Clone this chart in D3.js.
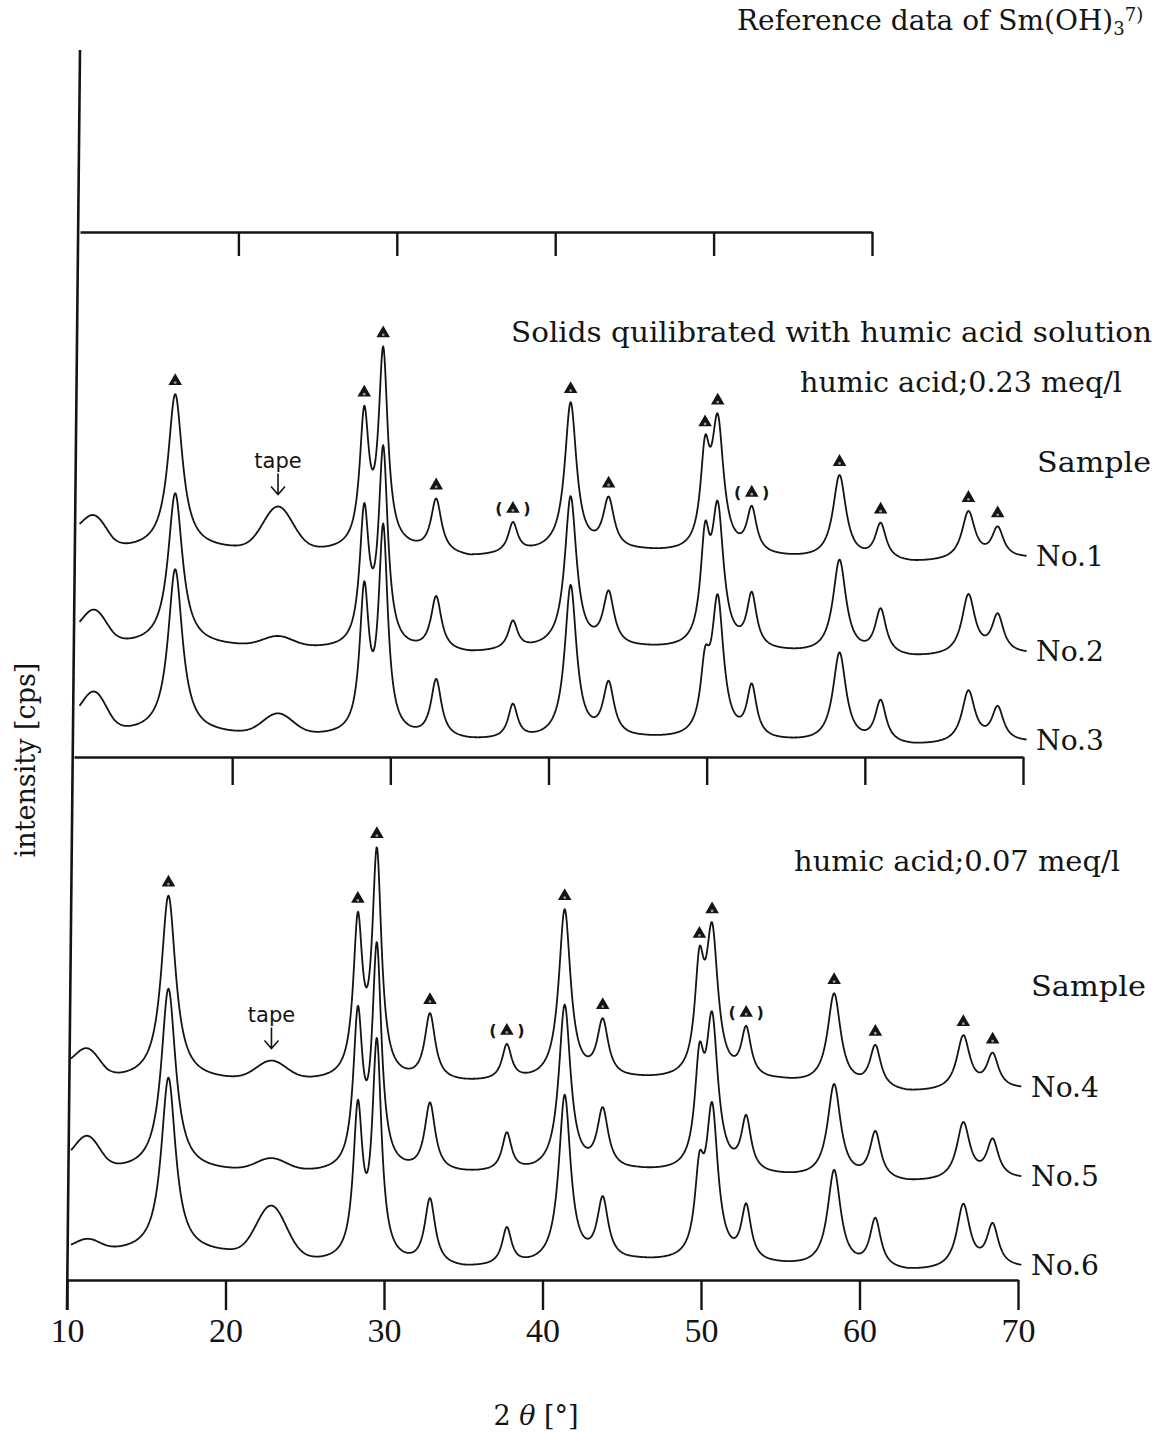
<!DOCTYPE html>
<html>
<head>
<meta charset="utf-8">
<script src="https://cdn.jsdelivr.net/npm/d3@7"></script>
<style>
  body { margin: 0; background: #fff; }
  svg text { font-family: "DejaVu Serif", serif; fill: #141414; }
  svg .hand { font-family: "DejaVu Sans", sans-serif; }
  svg .tick text { font-family: "Liberation Serif", serif; }
</style>
</head>
<body>
<svg id="chart" width="1166" height="1432"></svg>
<script>
// Pics de Sm(OH)3 (2θ, degrés), demi-largeurs et forme
// (1 = lorentzien pur, 0 = gaussien pour les bosses larges : fond à 11° et ruban adhésif)
const PEAK_POS  = [11.3, 16.4, 22.9, 28.35, 29.55, 32.9, 37.75, 41.4, 43.8, 49.9, 50.7, 52.85, 58.4, 61.0, 66.55, 68.4];
const PEAK_HWHM = [0.9,  0.55, 1.1,  0.35,  0.35,  0.4,  0.36,  0.45, 0.42, 0.35, 0.45, 0.37,  0.5,  0.42, 0.5,   0.45];
const PEAK_ETA  = [0,    1,    0,    1,     1,     1,    1,     1,    1,    1,    1,    1,     1,    1,    1,     1];

// hauteurs (cps, unité arbitraire) par échantillon, même ordre que PEAK_POS
const H_NO1 = [25, 155, 42, 130, 194, 53, 30, 148, 50, 88, 126, 44, 84, 36, 48, 30];
const H_NO2 = [28, 152, 10, 132, 195, 54, 28, 151, 53, 96, 133, 53, 94, 45, 60, 38];
const H_NO3 = [33, 164, 20, 140, 203, 58, 34, 153, 53, 60, 135, 51, 90, 42, 52, 34];
const H_NO4 = [23, 184, 18, 152, 222, 66, 35, 170, 56, 99, 141, 48, 92, 42, 54, 34];
const H_NO5 = [28, 182, 12, 150, 219, 68, 38, 166, 59, 95, 146, 53, 94, 47, 57, 38];
const H_NO6 = [10, 175, 50, 147, 215, 66, 37, 168, 61, 75, 148, 54, 97, 49, 64, 42];

// fond continu de chaque diagramme (2θ, cps) — inclut le décalage d'empilement
const BASE_NO1 = [[10, 222], [12.5, 208], [20, 207], [26, 205], [31, 205], [35, 198], [40, 204], [46, 204], [55, 198], [63, 193], [70, 198]];
const BASE_NO2 = [[10, 122], [12.5, 113], [20, 110], [26, 107], [35, 102], [40, 107], [46, 107], [55, 103], [63, 98], [70, 102]];
const BASE_NO3 = [[10, 36], [12.5, 25], [20, 22], [26, 20], [35, 15], [46, 17], [55, 14], [63, 10], [70, 14]];
const BASE_NO4 = [[10, 212], [12.5, 201], [20, 199], [26, 198], [35, 196], [46, 199], [55, 197], [63, 186], [70, 190]];
const BASE_NO5 = [[10, 118], [12.5, 110], [20, 108], [26, 106], [35, 105], [46, 107], [55, 102], [63, 96], [70, 100]];
const BASE_NO6 = [[10, 30], [12.5, 28], [20, 26], [26, 17], [35, 10], [46, 17], [55, 13], [63, 7], [70, 11]];

// pics marqués ▲ ; ceux entre parenthèses
const MARK_POS = [16.4, 28.35, 29.55, 32.9, 37.75, 41.4, 43.8, 49.9, 50.7, 52.85, 58.4, 61.0, 66.55, 68.4];
const MARK_BRACKETED = [37.75, 52.85];
const TAPE_POS = 22.9;

const X_TICKS = [10, 20, 30, 40, 50, 60, 70];
const REF_TICKS = [20, 30, 40, 50, 60];
const MID_LABELS = ['No.1', 'No.2', 'No.3'];
const BOT_LABELS = ['No.4', 'No.5', 'No.6'];

const ink = '#141414';
const svg = d3.select('#chart');

const topX = d3.scaleLinear().domain([10, 60]).range([80, 872]);
const midX = d3.scaleLinear().domain([10, 70]).range([74, 1023]);
const botX = d3.scaleLinear().domain([10, 70]).range([67, 1018]);
const midY = d3.scaleLinear().domain([0, 540]).range([757, 217]);
const botY = d3.scaleLinear().domain([0, 540]).range([1280, 740]);

function profile(heights, base) {
  const bg = d3.scaleLinear().domain(base.map((b) => b[0])).range(base.map((b) => b[1]));
  return (t) => {
    let v = bg(t);
    PEAK_POS.forEach((p, i) => {
      const d = (t - p) / PEAK_HWHM[i];
      const d2 = d * d;
      v += heights[i] * (PEAK_ETA[i] / (1 + d2) + (1 - PEAK_ETA[i]) * Math.exp(-0.693 * d2));
    });
    return v;
  };
}

function styleAxis(g) {
  g.select('.domain').attr('stroke', ink).attr('stroke-width', 2.6);
  g.selectAll('.tick line').attr('stroke', ink).attr('stroke-width', 2.4);
}

// --- axes ---
svg.append('g')
  .attr('transform', 'translate(0,232)')
  .call(d3.axisBottom(topX).tickValues(REF_TICKS).tickSize(24).tickSizeOuter(0).tickFormat(''))
  .call(styleAxis);

svg.append('g')
  .attr('transform', 'translate(0,757)')
  .call(d3.axisBottom(midX).tickValues(X_TICKS.slice(1)).tickSize(28).tickSizeOuter(0).tickFormat(''))
  .call(styleAxis);

const botAxis = svg.append('g')
  .attr('transform', 'translate(0,1280)')
  .call(d3.axisBottom(botX).tickValues(X_TICKS).tickSize(30).tickSizeOuter(0).tickPadding(8).tickFormat(d3.format('d')))
  .call(styleAxis);
botAxis.selectAll('.tick text')
  .attr('font-size', 34)
  .attr('fill', ink);

// axe des intensités, continu sur les trois cadres
svg.append('line')
  .attr('x1', topX(10)).attr('y1', 50)
  .attr('x2', botX(10)).attr('y2', 1310)
  .attr('stroke', ink).attr('stroke-width', 2.6);

// --- diagrammes ---
const line = (x, y) => d3.line().x((d) => x(d[0])).y((d) => y(d[1]));

function drawPanel(x, y, traces, labelX, t0, t1) {
  const grid = d3.range(t0, t1, 0.04);
  traces.forEach((tr) => {
    const f = profile(tr.h, tr.base);
    svg.append('path')
      .datum(grid.map((t) => [t, f(t)]))
      .attr('fill', 'none')
      .attr('stroke', ink)
      .attr('stroke-width', 1.8)
      .attr('stroke-linejoin', 'round')
      .attr('d', line(x, y));
    svg.append('text')
      .attr('x', labelX)
      .attr('y', y(f(t1)) + 10)
      .attr('font-size', 27)
      .attr('textLength', 68)
      .attr('lengthAdjust', 'spacingAndGlyphs')
      .text(tr.label);
    tr.f = f;
  });
  return traces;
}

const mid = drawPanel(midX, midY, [
  { label: MID_LABELS[0], h: H_NO1, base: BASE_NO1 },
  { label: MID_LABELS[1], h: H_NO2, base: BASE_NO2 },
  { label: MID_LABELS[2], h: H_NO3, base: BASE_NO3 }
], 1036, 10.35, 70.25);

const bot = drawPanel(botX, botY, [
  { label: BOT_LABELS[0], h: H_NO4, base: BASE_NO4 },
  { label: BOT_LABELS[1], h: H_NO5, base: BASE_NO5 },
  { label: BOT_LABELS[2], h: H_NO6, base: BASE_NO6 }
], 1031, 10.25, 70.25);

// ▲ au-dessus du diagramme supérieur de chaque cadre
const tri = d3.symbol(d3.symbolTriangle, 80);
function drawMarks(x, y, f) {
  MARK_POS.forEach((p) => {
    const cx = x(p);
    const cy = y(f(p)) - 13;
    const g = svg.append('g').attr('transform', `translate(${cx},${cy})`);
    g.append('path').attr('d', tri()).attr('fill', ink);
    g.append('circle').attr('r', 1.4).attr('cy', 1.5).attr('fill', '#999');
    if (MARK_BRACKETED.includes(p)) {
      g.append('text').attr('x', -14).attr('y', 5).attr('font-size', 16).attr('font-weight', 'bold')
        .attr('text-anchor', 'middle').attr('class', 'hand').text('(');
      g.append('text').attr('x', 14).attr('y', 5).attr('font-size', 16).attr('font-weight', 'bold')
        .attr('text-anchor', 'middle').attr('class', 'hand').text(')');
    }
  });
}
drawMarks(midX, midY, mid[0].f);
drawMarks(botX, botY, bot[0].f);

// annotation manuscrite « tape »
function drawTape(x, y, f) {
  const cx = x(TAPE_POS);
  const tip = y(f(TAPE_POS)) - 12;
  svg.append('text')
    .attr('class', 'hand')
    .attr('x', cx).attr('y', tip - 27)
    .attr('text-anchor', 'middle')
    .attr('font-size', 21)
    .text('tape');
  svg.append('path')
    .attr('d', `M${cx},${tip - 21}V${tip}M${cx - 7},${tip - 8}L${cx},${tip}L${cx + 7},${tip - 8}`)
    .attr('fill', 'none').attr('stroke', ink).attr('stroke-width', 1.6);
}
drawTape(midX, midY, mid[0].f);
drawTape(botX, botY, bot[0].f);

// --- textes ---
const title = svg.append('text').attr('x', 737).attr('y', 30).attr('font-size', 28);
title.append('tspan').text('Reference data of Sm(OH)');
title.append('tspan').attr('font-size', 18).attr('dy', 5).text('3');
title.append('tspan').attr('font-size', 18).attr('dy', -14).text('7)');

svg.append('text').attr('x', 511).attr('y', 342).attr('font-size', 27)
  .attr('textLength', 641).attr('lengthAdjust', 'spacingAndGlyphs')
  .text('Solids quilibrated with humic acid solution');
svg.append('text').attr('x', 800).attr('y', 392).attr('font-size', 27)
  .attr('textLength', 322).attr('lengthAdjust', 'spacingAndGlyphs')
  .text('humic acid;0.23 meq/l');
svg.append('text').attr('x', 1037).attr('y', 472).attr('font-size', 27)
  .attr('textLength', 114).attr('lengthAdjust', 'spacingAndGlyphs')
  .text('Sample');

svg.append('text').attr('x', 794).attr('y', 871).attr('font-size', 27)
  .attr('textLength', 326).attr('lengthAdjust', 'spacingAndGlyphs')
  .text('humic acid;0.07 meq/l');
svg.append('text').attr('x', 1031).attr('y', 996).attr('font-size', 27)
  .attr('textLength', 115).attr('lengthAdjust', 'spacingAndGlyphs')
  .text('Sample');

const xl = svg.append('text').attr('x', 536).attr('y', 1425).attr('text-anchor', 'middle').attr('font-size', 27);
xl.append('tspan').text('2 ');
xl.append('tspan').attr('font-style', 'italic').text('θ');
xl.append('tspan').text(' [°]');

svg.append('text')
  .attr('transform', 'translate(35,760) rotate(-90)')
  .attr('text-anchor', 'middle')
  .attr('font-size', 27)
  .text('intensity [cps]');
</script>
</body>
</html>
